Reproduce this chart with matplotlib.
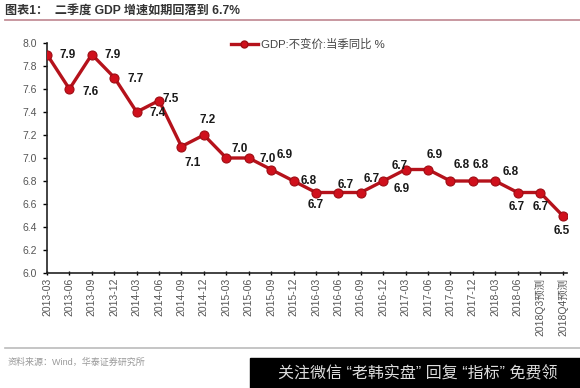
import matplotlib
matplotlib.use('Agg')
import matplotlib.pyplot as plt
from matplotlib.lines import Line2D

plt.rcParams['font.family'] = ['Liberation Sans', 'Noto Sans CJK SC', 'DejaVu Sans']

# quarters and GDP growth (%)
quarters = ['2013-03', '2013-06', '2013-09', '2013-12', '2014-03', '2014-06',
            '2014-09', '2014-12', '2015-03', '2015-06', '2015-09', '2015-12',
            '2016-03', '2016-06', '2016-09', '2016-12', '2017-03', '2017-06',
            '2017-09', '2017-12', '2018-03', '2018-06', '2018Q3预测', '2018Q4预测']
gdp = [7.9, 7.6, 7.9, 7.7, 7.4, 7.5, 7.1, 7.2, 7.0, 7.0, 6.9, 6.8,
       6.7, 6.7, 6.7, 6.8, 6.9, 6.9, 6.8, 6.8, 6.8, 6.7, 6.7, 6.5]
# labels as printed on the original chart (shifted by one in places)
labels = ['7.9', '7.6', '7.9', '7.7', '7.4', '7.5', '7.1', '7.2', '7.0', '7.0',
          '6.9', '6.8', '6.7', '6.7', '6.7', '6.7', '6.9', '6.9', '6.8', '6.8',
          '6.8', '6.7', '6.7', '6.5']
# label offsets in pixels (dx, dy down positive)
offs = [(21, 0), (21, 3), (21, 0), (21, 1), (21, 1), (12, -2), (11, 17), (4, -15),
        (13, -9), (19, 1), (14, -14), (15, 0), (0, 12), (7, -8), (11, -14),
        (16, -15), (-4, 19), (7, -14), (11, -16), (8, -16), (15, -9), (-1, 15),
        (1, 14), (-1, 15)]

W, H = 580, 388
fig = plt.figure(figsize=(W / 100, H / 100), dpi=100)
fig.patch.set_facecolor('white')

ax = fig.add_axes([47 / W, 1 - 273 / H, (567 - 47) / W, (273 - 43) / H])
x = list(range(len(quarters)))
line_col = '#B5121B'
ax.plot(x, gdp, color=line_col, lw=2.4, marker='o', ms=6.5,
        mfc='#D0101C', mec='#9E0D14', mew=0.8, zorder=3)

for i in x:
    dx, dy = offs[i]
    ax.annotate(labels[i], (i, gdp[i]), xytext=(dx * 0.72, -dy * 0.72),
                textcoords='offset points', ha='center', va='center',
                fontsize=8.5, fontweight='bold', color='#1a1a1a', zorder=4)

ax.set_xlim(0, 23.2)
ax.set_ylim(6.0, 8.0)
ax.set_yticks([6.0 + 0.2 * k for k in range(11)])
ax.set_yticklabels(['%.1f' % (6.0 + 0.2 * k) for k in range(11)])
ax.set_xticks(x)
ax.set_xticklabels(quarters, rotation=90)
ax.tick_params(axis='y', labelsize=7.5, labelcolor='#555555', length=3, width=1,
               direction='out', pad=4)
ax.tick_params(axis='x', labelsize=7.5, labelcolor='#555555', length=3, width=1,
               direction='inout', pad=2)
for s in ['top', 'right']:
    ax.spines[s].set_visible(False)
for s in ['left', 'bottom']:
    ax.spines[s].set_linewidth(1.2)
    ax.spines[s].set_color('#222222')

# legend
handle = Line2D([], [], color=line_col, lw=2.4, marker='o', ms=5,
                mfc='#D0101C', mec='#9E0D14')
leg = ax.legend([handle], ['GDP:不变价:当季同比 %'], loc='upper left',
                bbox_to_anchor=(226 / W, 1 - 34 / H), bbox_transform=fig.transFigure,
                frameon=False, fontsize=8.2, handlelength=2.4, handletextpad=0.3,
                borderaxespad=0)
for t in leg.get_texts():
    t.set_color('#444444')

# title and rules
fig.text(5 / W, 1 - 11 / H, '图表1：  二季度 GDP 增速如期回落到 6.7%',
         fontsize=8.7, fontweight='bold', color='#333333', va='center', ha='left')
fig.add_artist(Line2D([5 / W, 1], [1 - 20 / H, 1 - 20 / H], color='#C49098', lw=1.3))
fig.add_artist(Line2D([5 / W, 1], [1 - 348 / H, 1 - 348 / H], color='#BBBBBB', lw=1.2))
fig.text(8 / W, 1 - 362 / H, '资料来源：Wind，华泰证券研究所',
         fontsize=6.5, color='#999999', va='center', ha='left')

# watermark banner
fig.add_artist(plt.Rectangle((250 / W, 0), 1 - 250 / W, 30 / H,
                             transform=fig.transFigure, color='black', zorder=5))
fig.text(418 / W, 14 / H, '关注微信 “老韩实盘” 回复 “指标” 免费领',
         fontsize=11.5, color='#DDDDDD', va='center', ha='center', zorder=6)

fig.savefig('out.png', dpi=100)
